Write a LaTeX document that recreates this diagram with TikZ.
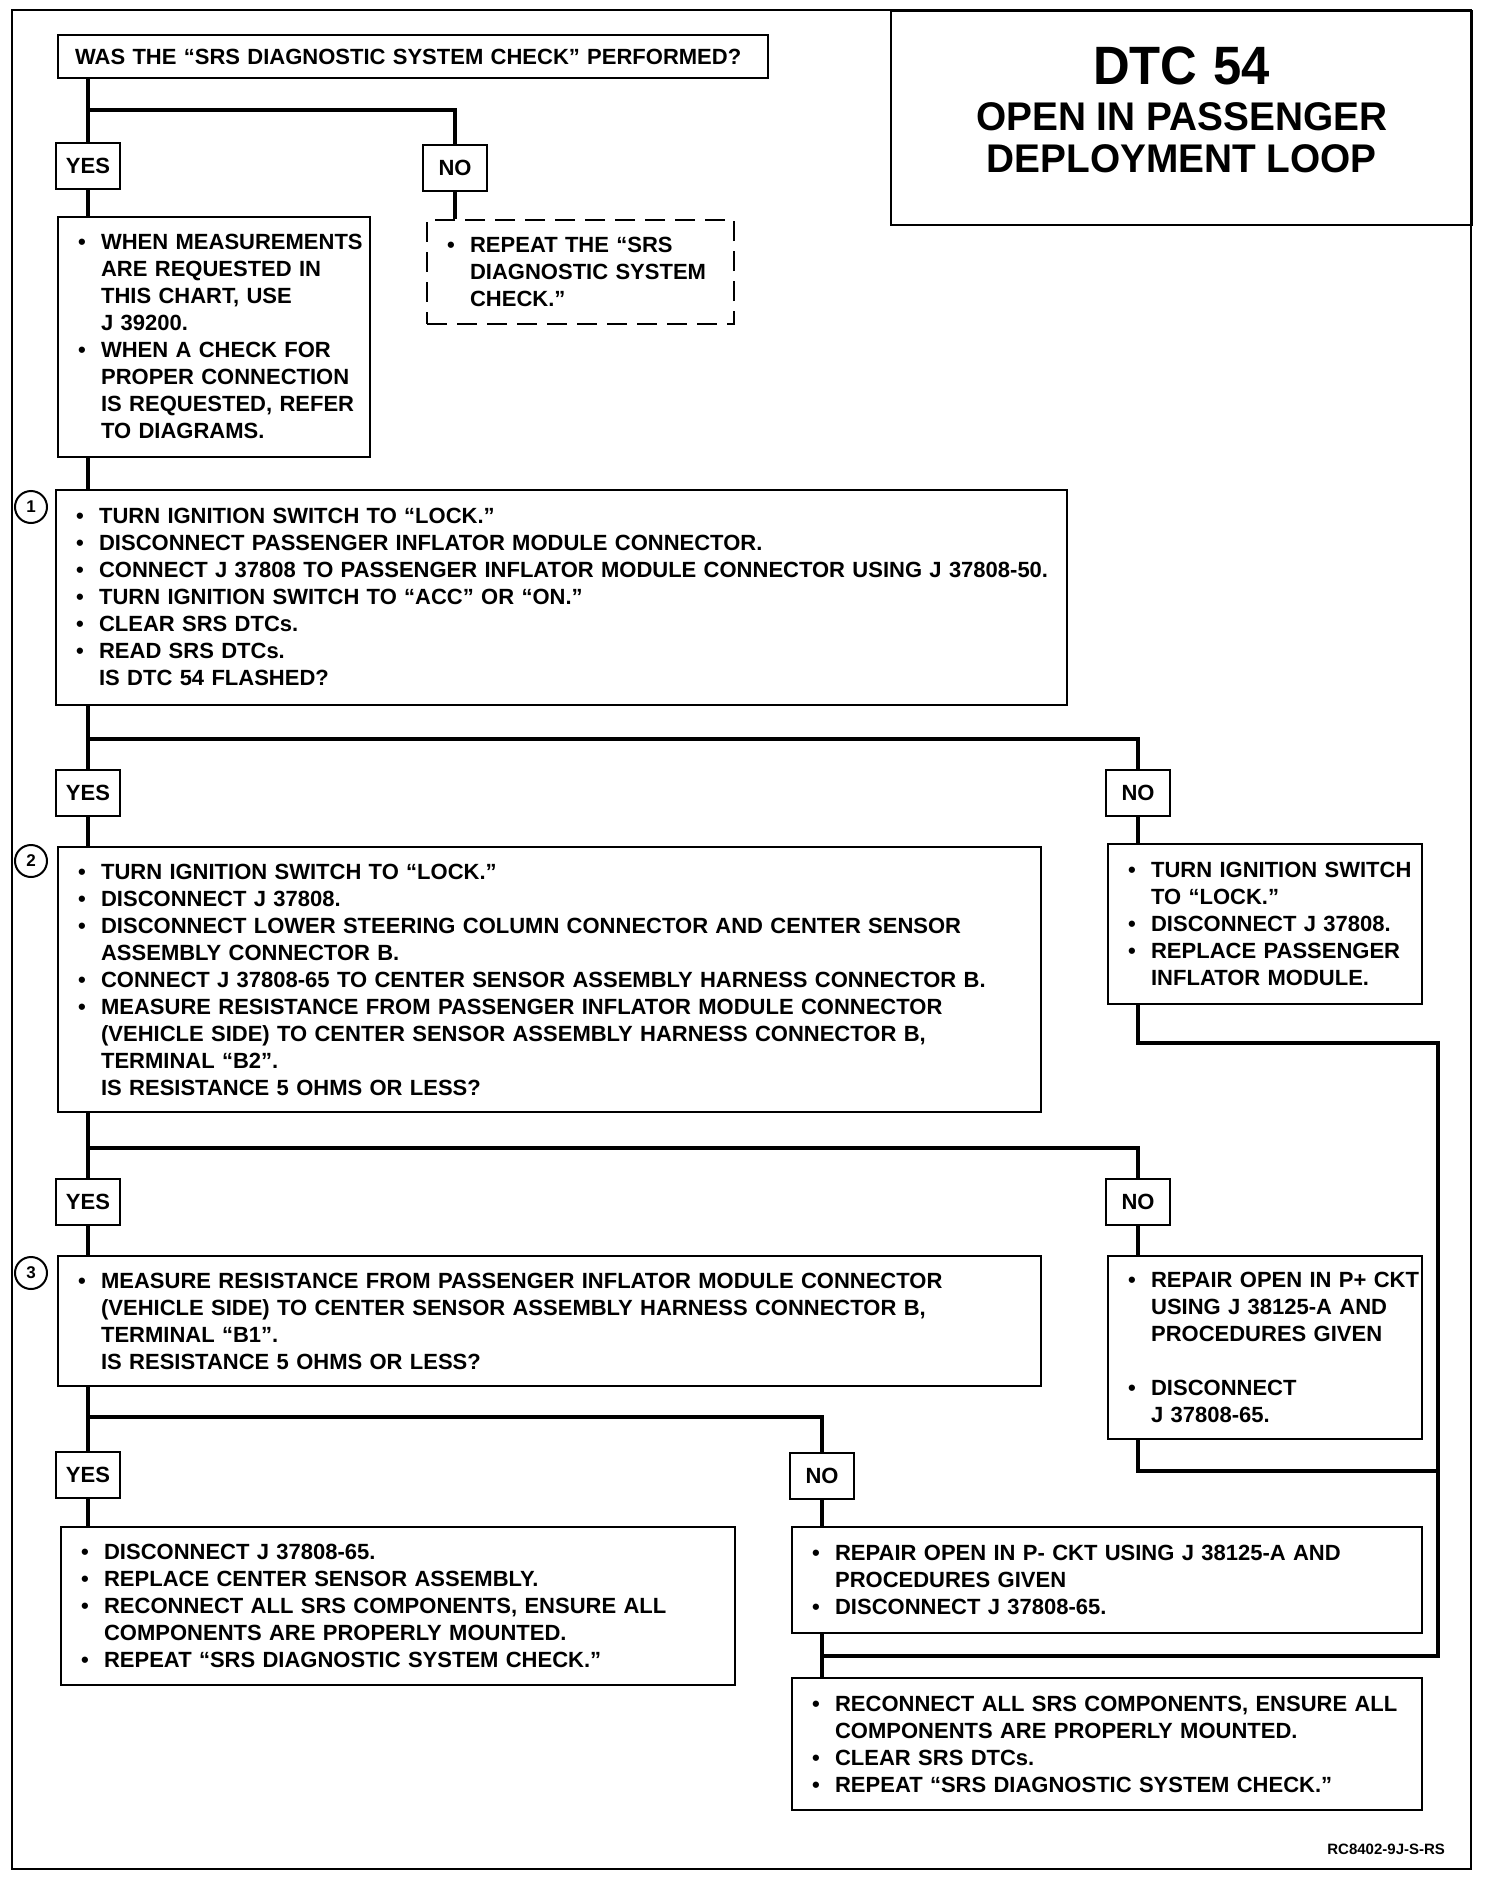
\documentclass[tikz,border=0pt]{standalone}
\usepackage{fontspec}
\setmainfont{Liberation Sans}
\newfontfamily\ttlfont{Liberation Sans}[FakeStretch=0.94]
\newfontfamily\subfont{Liberation Sans}[FakeStretch=0.97]
\newcommand{\itm}{\par\noindent\leftskip=7pt\hangindent=11.5pt\hangafter=1\makebox[11.5pt][l]{\textbullet}}
\newcommand{\cnt}{\par\noindent\leftskip=7pt\hangindent=11.5pt\hangafter=0\relax}
\newcommand{\boxend}{\par\vspace{6pt}\hrule height 0pt}
\hyphenpenalty=10000
\exhyphenpenalty=10000
\begin{document}
\begin{tikzpicture}[x=0.5pt, y=-0.5pt,
    box/.style 2 args={draw, line width=1.1pt, anchor=north west,
      inner xsep=3pt, inner ysep=0pt, text width=#1, minimum height=#2,
      align=left, font=\fontsize{11}{13.5}\selectfont\bfseries},
    yn/.style={draw, line width=1.1pt, minimum width=32pt, minimum height=23pt,
      inner sep=0pt, font=\fontsize{11}{13}\selectfont\bfseries},
    num/.style={circle, draw, line width=1pt, minimum size=16pt, inner sep=0pt,
      font=\fontsize{8.5}{8.5}\selectfont\bfseries},
    wire/.style={line width=1.8pt}
]
\useasboundingbox (0,0) rectangle (1488,1878);
\draw[line width=1.2pt] (12,10) rectangle (1471,1869);

%% title
\node[draw, line width=1.2pt, anchor=north west, minimum width=290.5pt,
  minimum height=107pt, inner sep=0pt, text width=280pt, align=center,
  font=\bfseries] (title) at (890,10)
  {\ttlfont\fontsize{27}{27}\selectfont\spaceskip=0.3em DTC 54\par\vspace{2.3pt}
   \subfont\fontsize{20}{21}\selectfont\spaceskip=0.27em OPEN IN PASSENGER\par
   DEPLOYMENT LOOP\par\vspace{8.4pt}\hrule height 0pt};

%% first question
\node[box={338pt}{21.5pt}, inner xsep=8.5pt] (q0) at (57,34)
  {WAS THE “SRS DIAGNOSTIC SYSTEM CHECK” PERFORMED?};
\node[yn] (yes1) at (88,166) {YES};
\node[yn] (no1) at (455,168) {NO};
\node[box={150pt}{120pt}] (boxA) at (57,216)
  {\itm WHEN MEASUREMENTS\newline ARE REQUESTED IN\newline THIS CHART, USE\newline J 39200.
   \itm WHEN A CHECK FOR\newline PROPER CONNECTION\newline IS REQUESTED, REFER\newline TO  DIAGRAMS.\boxend};
\node[box={147.5pt}{52pt}, dash pattern=on 10pt off 5pt] (boxB) at (426,219)
  {\itm REPEAT THE “SRS\newline DIAGNOSTIC SYSTEM\newline CHECK.”\boxend};

%% step 1
\node[num] (c1) at (31,507) {1};
\node[box={499.5pt}{107.5pt}] (box1) at (55,489)
  {\itm TURN IGNITION SWITCH TO “LOCK.”
   \itm DISCONNECT PASSENGER INFLATOR MODULE CONNECTOR.
   \itm CONNECT J 37808 TO PASSENGER INFLATOR MODULE CONNECTOR USING J 37808-50.
   \itm TURN IGNITION SWITCH TO “ACC” OR “ON.”
   \itm CLEAR SRS DTCs.
   \itm READ SRS DTCs.
   \cnt IS DTC 54 FLASHED?\boxend};
\node[yn] (yes2) at (88,793) {YES};
\node[yn] (no2) at (1138,793) {NO};

%% step 2
\node[num] (c2) at (31,861) {2};
\node[box={485.5pt}{132.5pt}] (box2) at (57,846)
  {\itm TURN IGNITION SWITCH TO “LOCK.”
   \itm DISCONNECT J 37808.
   \itm DISCONNECT LOWER STEERING COLUMN CONNECTOR AND CENTER SENSOR\newline ASSEMBLY CONNECTOR B.
   \itm CONNECT J 37808-65 TO CENTER SENSOR ASSEMBLY HARNESS CONNECTOR B.
   \itm MEASURE RESISTANCE FROM PASSENGER INFLATOR MODULE CONNECTOR\newline (VEHICLE SIDE) TO CENTER SENSOR ASSEMBLY HARNESS CONNECTOR B,\newline TERMINAL “B2”.
   \cnt IS RESISTANCE 5 OHMS OR LESS?\boxend};
\node[box={151pt}{80pt}] (noact2) at (1107,843)
  {\itm \mbox{TURN IGNITION SWITCH}\newline TO “LOCK.”
   \itm DISCONNECT J 37808.
   \itm REPLACE PASSENGER\newline INFLATOR MODULE.\boxend};
\node[yn] (yes3) at (88,1202) {YES};
\node[yn] (no3) at (1138,1202) {NO};

%% step 3
\node[num] (c3) at (31,1273) {3};
\node[box={485.5pt}{65pt}] (box3) at (57,1255)
  {\itm MEASURE RESISTANCE FROM PASSENGER INFLATOR MODULE CONNECTOR\newline (VEHICLE SIDE) TO CENTER SENSOR ASSEMBLY HARNESS CONNECTOR B,\newline TERMINAL “B1”.
   \cnt IS RESISTANCE 5 OHMS OR LESS?\boxend};
\node[box={151pt}{91.5pt}] (noact3) at (1107,1255)
  {\itm \mbox{REPAIR OPEN IN P+ CKT}\newline USING J 38125-A AND\newline PROCEDURES GIVEN
   \par\mbox{}
   \itm DISCONNECT\newline J 37808-65.\boxend};
\node[yn] (yes4) at (88,1475) {YES};
\node[yn] (no4) at (822,1476) {NO};

%% results
\node[box={331pt}{79pt}] (yesact4) at (60,1526)
  {\itm DISCONNECT J 37808-65.
   \itm REPLACE CENTER SENSOR ASSEMBLY.
   \itm RECONNECT ALL SRS COMPONENTS, ENSURE ALL\newline COMPONENTS ARE PROPERLY MOUNTED.
   \itm REPEAT “SRS DIAGNOSTIC SYSTEM CHECK.”\boxend};
\node[box={309pt}{53pt}] (noact4) at (791,1526)
  {\itm REPAIR OPEN IN P- CKT USING J 38125-A AND\newline PROCEDURES GIVEN
   \itm DISCONNECT J 37808-65.\boxend};
\node[box={309pt}{66pt}] (final) at (791,1677)
  {\itm RECONNECT ALL SRS COMPONENTS, ENSURE ALL\newline COMPONENTS ARE PROPERLY MOUNTED.
   \itm CLEAR SRS DTCs.
   \itm REPEAT “SRS DIAGNOSTIC SYSTEM CHECK.”\boxend};
\node[anchor=east, font=\fontsize{7.5}{8}\selectfont\bfseries] (ref) at (1452,1849)
  {RC8402-9J-S-RS};

%% connectors
\coordinate (b1) at (0,110);
\coordinate (b2) at (0,739);
\coordinate (b3) at (0,1148);
\coordinate (b4) at (0,1417);
\coordinate (rx) at (1438,1043);
\coordinate (r3) at (0,1471);
\coordinate (jn) at (0,1656);
\draw[wire] (q0.south -| yes1) -- (yes1.north);
\draw[wire] (yes1 |- b1) -| (no1.north);
\draw[wire] (yes1.south) -- (yes1 |- boxA.north);
\draw[wire] (no1.south) -- (no1 |- boxB.north);
\draw[wire] (yes1 |- boxA.south) -- (yes1 |- box1.north);
\draw[wire] (yes2 |- box1.south) -- (yes2.north);
\draw[wire] (yes2 |- b2) -| (no2.north);
\draw[wire] (yes2.south) -- (yes2 |- box2.north);
\draw[wire] (no2.south) -- (no2 |- noact2.north);
\draw[wire] (yes3 |- box2.south) -- (yes3.north);
\draw[wire] (yes3 |- b3) -| (no3.north);
\draw[wire] (yes3.south) -- (yes3 |- box3.north);
\draw[wire] (no3.south) -- (no3 |- noact3.north);
\draw[wire] (yes4 |- box3.south) -- (yes4.north);
\draw[wire] (yes4 |- b4) -| (no4.north);
\draw[wire] (yes4.south) -- (yes4 |- yesact4.north);
\draw[wire] (no4.south) -- (no4 |- noact4.north);
\draw[wire] (no4 |- noact4.south) -- (no4 |- final.north);
\draw[wire] (no2 |- noact2.south) |- (rx) -- (rx |- jn) -- (no4 |- jn);
\draw[wire] (no3 |- noact3.south) |- (rx |- r3);
\end{tikzpicture}
\end{document}
